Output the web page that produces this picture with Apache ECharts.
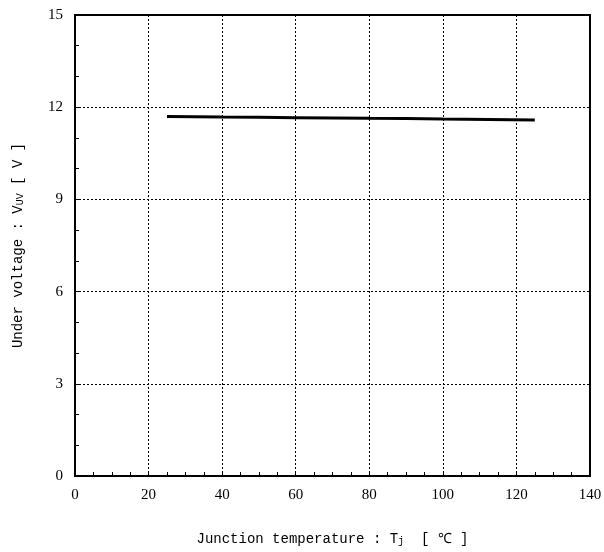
<!DOCTYPE html>
<html><head><meta charset="utf-8">
<script src="https://cdn.jsdelivr.net/npm/echarts@6/dist/echarts.min.js"></script>
<style>html,body{margin:0;padding:0;background:#fff}#c{width:604px;height:552px}</style>
</head><body><div id="c"></div>
<script>
const temps = [25, 40, 60, 80, 100, 125];
const voltages = [11.70, 11.68, 11.66, 11.64, 11.62, 11.58];
const xTicks = [0, 20, 40, 60, 80, 100, 120, 140];
const yTicks = [0, 3, 6, 9, 12, 15];

const chart = echarts.init(document.getElementById('c'));
const labelFont = {color: '#000', fontFamily: 'Liberation Serif', fontSize: 15};
const titleRich = {
  a: {fontFamily: 'Liberation Mono', fontSize: 14, color: '#000'},
  s: {fontFamily: 'Liberation Mono', fontSize: 10, color: '#000', padding: [4,0,0,0]}
};
chart.setOption({
  animation: false,
  grid: {left: 75, right: 14, top: 15, bottom: 76, show: true, borderColor: '#000', borderWidth: 2, outerBoundsMode: 'none', containLabel: false},
  xAxis: {
    type: 'value', min: xTicks[0], max: xTicks[xTicks.length-1], interval: 20,
    axisLine: {lineStyle: {color: '#000', width: 2}},
    axisTick: {inside: true, length: 5, lineStyle: {color: '#000'}},
    minorTick: {show: true, splitNumber: 4, length: 4, lineStyle: {color: '#000'}},
    splitLine: {show: true, lineStyle: {color: '#000', type: [2, 2], width: 1}},
    axisLabel: Object.assign({margin: 12}, labelFont),
    name: '{a|Junction temperature : T}{s|j}{a|  [ ℃ ]}',
    nameLocation: 'middle', nameGap: 56,
    nameTextStyle: {rich: titleRich}
  },
  yAxis: {
    type: 'value', min: yTicks[0], max: yTicks[yTicks.length-1], interval: 3,
    axisLine: {lineStyle: {color: '#000', width: 2}},
    axisTick: {inside: true, length: 5, lineStyle: {color: '#000'}},
    minorTick: {show: true, splitNumber: 3, length: 4, lineStyle: {color: '#000'}},
    splitLine: {show: true, lineStyle: {color: '#000', type: [2, 2], width: 1}},
    axisLabel: Object.assign({margin: 12}, labelFont),
    name: '{a|Under voltage : V}{s|UV}{a| [ V ]}',
    nameLocation: 'middle', nameGap: 50,
    nameTextStyle: {rich: titleRich}
  },
  series: [{
    type: 'line', showSymbol: false, smooth: true,
    lineStyle: {color: '#000', width: 3},
    data: temps.map((t, i) => [t, voltages[i]])
  }]
});
</script></body></html>
